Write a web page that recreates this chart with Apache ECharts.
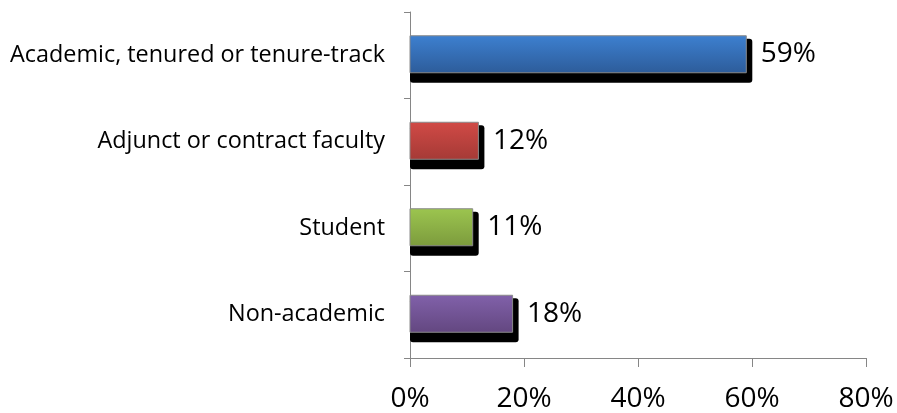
<!DOCTYPE html>
<html>
<head>
<meta charset="utf-8">
<script src="https://cdn.jsdelivr.net/npm/echarts@6/dist/echarts.min.js"></script>
<style>html,body{margin:0;padding:0;background:#fff;}#c{width:897px;height:413px;}</style>
</head>
<body>
<div id="c"></div>
<script>
var categories = ['Academic, tenured or tenure-track', 'Adjunct or contract faculty', 'Student', 'Non-academic'];
var values = [59, 12, 11, 18];
var tickLabels = [0, 20, 40, 60, 80];
var colorsTop = ['#3D80D0', '#D14A46', '#9CC54F', '#8161AA'];
var colorsBottom = ['#2D5C9A', '#A53A36', '#7C9B3D', '#634780'];

var FONT = 'Open Sans';
var chart = echarts.init(document.getElementById('c'), null, {renderer: 'canvas'});
var seriesData = values.map(function (v, i) { return [v, i]; });

function renderBar(params, api) {
  var idx = api.value(1);
  var v = api.value(0);
  var p0 = api.coord([0, idx]);
  var p1 = api.coord([v, idx]);
  var h = 37;
  var top = p0[1] - h / 2 - 1;
  var x0 = p0[0];
  var x1 = p1[0];
  return {
    type: 'group',
    children: [
      {
        type: 'rect',
        shape: {x: x0, y: top + 3, width: x1 - x0 + 6, height: h + 7, r: 3},
        style: {fill: '#000'}
      },
      {
        type: 'rect',
        shape: {x: x0, y: top, width: x1 - x0, height: h},
        style: {
          fill: new echarts.graphic.LinearGradient(0, 0, 0, 1, [
            {offset: 0, color: colorsTop[params.dataIndex]},
            {offset: 1, color: colorsBottom[params.dataIndex]}
          ]),
          stroke: '#8a8a8a', lineWidth: 1
        },
        textContent: {
          style: {text: v + '%', fontFamily: FONT, fontSize: 28, fill: '#000'}
        },
        textConfig: {position: 'right', distance: 14}
      }
    ]
  };
}

chart.setOption({
  animation: false,
  grid: {left: 410, right: 31, top: 12, bottom: 54},
  xAxis: {
    type: 'value', min: 0, max: 80, interval: 20,
    axisLine: {show: true, lineStyle: {color: '#868686', width: 1}},
    axisTick: {show: true, length: 9, lineStyle: {color: '#868686'}},
    splitLine: {show: false},
    axisLabel: {fontFamily: FONT, fontSize: 28, color: '#000', margin: 27,
      formatter: function (v) { return v + '%'; }}
  },
  yAxis: {
    type: 'category', inverse: true, data: categories,
    axisLine: {show: true, lineStyle: {color: '#868686', width: 1}},
    axisTick: {show: true, length: 6, lineStyle: {color: '#868686'}},
    axisLabel: {fontFamily: FONT, fontSize: 23.4, color: '#000', margin: 25}
  },
  series: [{
    type: 'custom', renderItem: renderBar, data: seriesData,
    encode: {x: 0, y: 1}, clip: false
  }]
});
</script>
</body>
</html>
